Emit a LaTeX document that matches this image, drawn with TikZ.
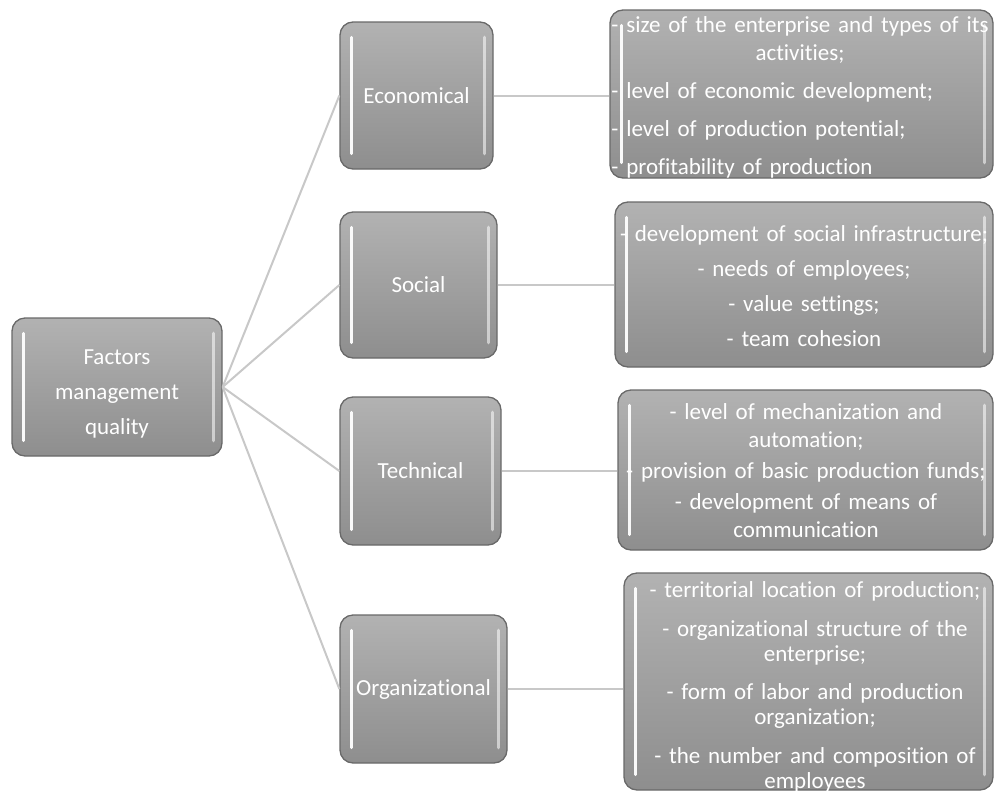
\documentclass[tikz,border=0pt]{standalone}
\usepackage{fontspec}
\setmainfont{Carlito}[WordSpace=1.5,Ligatures=NoCommon]
\definecolor{boxtop}{RGB}{178,178,178}
\definecolor{boxbot}{RGB}{142,142,142}
\definecolor{boxedge}{RGB}{105,105,105}
\definecolor{conn}{RGB}{200,200,200}
\newlength{\ewid}
\begin{document}
\settowidth{\ewid}{\fontsize{23}{28}\selectfont - size of the enterprise and types of its}
\begin{tikzpicture}[x=1pt,y=-1pt,
  bevel/.style={rounded corners=13pt, draw=boxedge, line width=1.3pt,
    top color=boxtop, bottom color=boxbot, inner sep=0pt},
  boxtext/.style={text=white, align=center, inner sep=0pt,
    font=\fontsize{23}{28}\selectfont},
  hlL/.style={white, line width=3pt, line cap=round, opacity=0.95},
  hlR/.style={white, line width=3.5pt, line cap=round, opacity=0.55},
  link/.style={conn, line width=2pt}]
\useasboundingbox (0,0) rectangle (994,801);
\newcommand{\bevelhl}[1]{%
  \draw[hlL] ([xshift=12pt,yshift=-16pt]#1.north west) -- ([xshift=12pt,yshift=16pt]#1.south west);
  \draw[hlR] ([xshift=-9pt,yshift=-16pt]#1.north east) -- ([xshift=-9pt,yshift=16pt]#1.south east);}

% root
\node[bevel, minimum width=210pt, minimum height=138pt] (root) at (117,387) {};
% middle column
\node[bevel, minimum width=153pt, minimum height=147pt] (eco) at (416.5,95.5) {};
\node[bevel, minimum width=157pt, minimum height=146pt] (soc) at (418.5,285) {};
\node[bevel, minimum width=161pt, minimum height=148pt] (tec) at (420.5,471) {};
\node[bevel, minimum width=167pt, minimum height=148pt] (org) at (423.5,689) {};
% lists
\node[bevel, minimum width=383pt, minimum height=168pt] (ecol) at (801.5,94) {};
\node[bevel, minimum width=378pt, minimum height=165pt] (socl) at (804,284.5) {};
\node[bevel, minimum width=375pt, minimum height=160pt] (tecl) at (805.5,470) {};
\node[bevel, minimum width=369pt, minimum height=217pt] (orgl) at (808.5,681.5) {};

% connectors
\draw[link] (root.east) -- (eco.west);
\draw[link] (root.east) -- (soc.west);
\draw[link] (root.east) -- (tec.west);
\draw[link] (root.east) -- (org.west);
\draw[link] (eco.east) -- (eco.east -| ecol.west);
\draw[link] (soc.east) -- (soc.east -| socl.west);
\draw[link] (tec.east) -- (tec.east -| tecl.west);
\draw[link] (org.east) -- (org.east -| orgl.west);

% texts
\node[boxtext, font=\fontsize{23}{35}\selectfont] (roott) at (117,394) {Factors\\management\\quality};
\node[boxtext] (ecot) at (eco.center) {Economical};
\node[boxtext] (soct) at (soc.center) {Social};
\node[boxtext] (tect) at (tec.center) {Technical};
\node[boxtext] (orgt) at (org.center) {Organizational};

\node[boxtext] (ecolt) at (800,97) {- size of the enterprise and types of its\\ activities;\\[10pt]
  \makebox[\ewid][l]{- level of economic development;}\\[10pt]
  \makebox[\ewid][l]{- level of production potential;}\\[10pt]
  \makebox[\ewid][l]{- profitability of production}};
\node[boxtext] (soclt) at (804,286) {- development of social infrastructure;\\[7pt]
  - needs of employees;\\[7pt] - value settings;\\[7pt] - team cohesion};
\node[boxtext] (teclt) at (806,471) {- level of mechanization and\\ automation;\\[3pt]
  - provision of basic production funds;\\[3pt] - development of means of\\ communication};
\node[boxtext, font=\fontsize{23}{25.5}\selectfont] (orglt) at (815,687) {- territorial location of production;\\[13pt]
  - organizational structure of the\\ enterprise;\\[12pt]
  - form of labor and production\\ organization;\\[13pt]
  - the number and composition of\\ employees};

% bevel highlights
\bevelhl{root}
\bevelhl{eco}
\bevelhl{soc}
\bevelhl{tec}
\bevelhl{org}
\bevelhl{ecol}
\bevelhl{socl}
\bevelhl{tecl}
\bevelhl{orgl}
\end{tikzpicture}
\end{document}
